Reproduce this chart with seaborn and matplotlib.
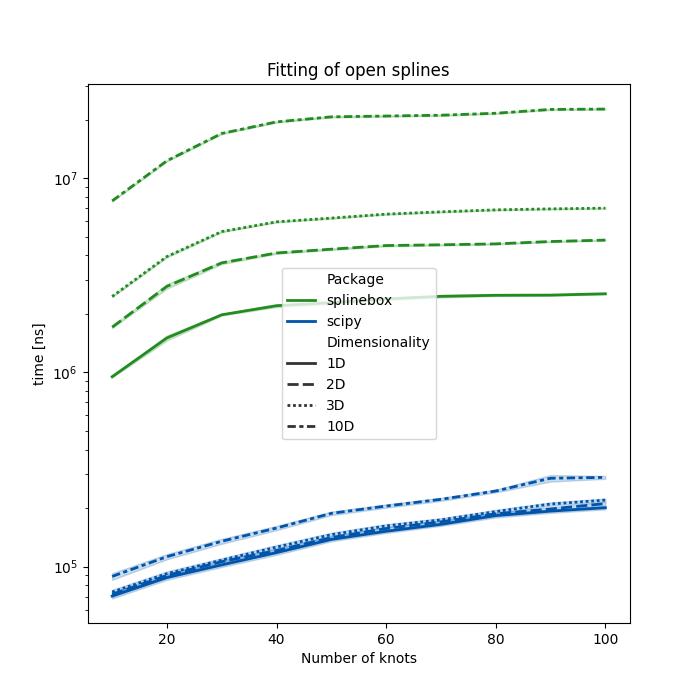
import numpy as np
import pandas as pd
import matplotlib
matplotlib.use("Agg")
import matplotlib.pyplot as plt
import seaborn as sns

# Number of knots
knots = [10, 20, 30, 40, 50, 60, 70, 80, 90, 100]
dims = ["1D", "2D", "3D", "10D"]
packages = ["splinebox", "scipy"]

# splinebox timings [ns], two runs per point (low / high)
sb_1d_lo = [0.94e6, 1.46e6, 1.96e6, 2.17e6, 2.25e6, 2.36e6, 2.43e6, 2.47e6, 2.48e6, 2.52e6]
sb_1d_hi = [0.96e6, 1.55e6, 2.00e6, 2.24e6, 2.32e6, 2.42e6, 2.50e6, 2.52e6, 2.52e6, 2.56e6]
sb_2d_lo = [1.69e6, 2.70e6, 3.61e6, 4.08e6, 4.27e6, 4.46e6, 4.51e6, 4.56e6, 4.69e6, 4.77e6]
sb_2d_hi = [1.73e6, 2.85e6, 3.72e6, 4.16e6, 4.35e6, 4.54e6, 4.57e6, 4.62e6, 4.75e6, 4.83e6]
sb_3d_lo = [2.44e6, 3.91e6, 5.27e6, 5.92e6, 6.19e6, 6.49e6, 6.67e6, 6.83e6, 6.91e6, 6.97e6]
sb_3d_hi = [2.48e6, 3.99e6, 5.35e6, 6.00e6, 6.27e6, 6.57e6, 6.75e6, 6.91e6, 6.99e6, 7.05e6]
sb_10d_lo = [7.58e6, 12.2e6, 16.85e6, 19.35e6, 20.55e6, 20.75e6, 20.95e6, 21.45e6, 22.45e6, 22.55e6]
sb_10d_hi = [7.70e6, 12.4e6, 17.15e6, 19.65e6, 20.85e6, 21.05e6, 21.25e6, 21.75e6, 22.75e6, 22.85e6]

# scipy timings [ns]
sp_1d_lo = [68.5e3, 85.5e3, 99.5e3, 115e3, 135e3, 149e3, 162e3, 179e3, 189e3, 197e3]
sp_1d_hi = [72.5e3, 90e3, 104.5e3, 121e3, 141e3, 155e3, 168e3, 187e3, 197e3, 205e3]
sp_2d_lo = [70e3, 88e3, 103.5e3, 118e3, 138e3, 154e3, 167e3, 184e3, 194e3, 207e3]
sp_2d_hi = [74e3, 92e3, 108.5e3, 124e3, 144e3, 160e3, 173e3, 190e3, 202e3, 215e3]
sp_3d_lo = [72e3, 89.5e3, 105.5e3, 123e3, 142.5e3, 158.5e3, 170.5e3, 188e3, 206e3, 216e3]
sp_3d_hi = [76e3, 94.5e3, 110.5e3, 129e3, 149.5e3, 165.5e3, 177.5e3, 196e3, 214e3, 224e3]
sp_10d_lo = [85.5e3, 109e3, 131e3, 154e3, 184e3, 201e3, 218e3, 241e3, 274e3, 283e3]
sp_10d_hi = [92.5e3, 116e3, 139e3, 162e3, 192e3, 209e3, 226e3, 249e3, 296e3, 293e3]

runs = {
    ("splinebox", "1D"): (sb_1d_lo, sb_1d_hi),
    ("splinebox", "2D"): (sb_2d_lo, sb_2d_hi),
    ("splinebox", "3D"): (sb_3d_lo, sb_3d_hi),
    ("splinebox", "10D"): (sb_10d_lo, sb_10d_hi),
    ("scipy", "1D"): (sp_1d_lo, sp_1d_hi),
    ("scipy", "2D"): (sp_2d_lo, sp_2d_hi),
    ("scipy", "3D"): (sp_3d_lo, sp_3d_hi),
    ("scipy", "10D"): (sp_10d_lo, sp_10d_hi),
}

rows = []
for pkg in packages:
    for d in dims:
        for run in runs[(pkg, d)]:
            for k, t in zip(knots, run):
                rows.append({"Number of knots": k, "time [ns]": t,
                             "Package": pkg, "Dimensionality": d})
df = pd.DataFrame(rows)

plt.rcParams["lines.linewidth"] = 2

fig, ax = plt.subplots(figsize=(7, 7), dpi=100)
sns.lineplot(data=df, x="Number of knots", y="time [ns]",
             hue="Package", style="Dimensionality",
             hue_order=packages, style_order=dims,
             palette={"splinebox": "#228b22", "scipy": "#0055aa"},
             errorbar=("pi", 100), ax=ax)
ax.set_yscale("log")
ax.set_title("Fitting of open splines")
ax.legend(loc="center")

fig.savefig("out.png", dpi=100)
